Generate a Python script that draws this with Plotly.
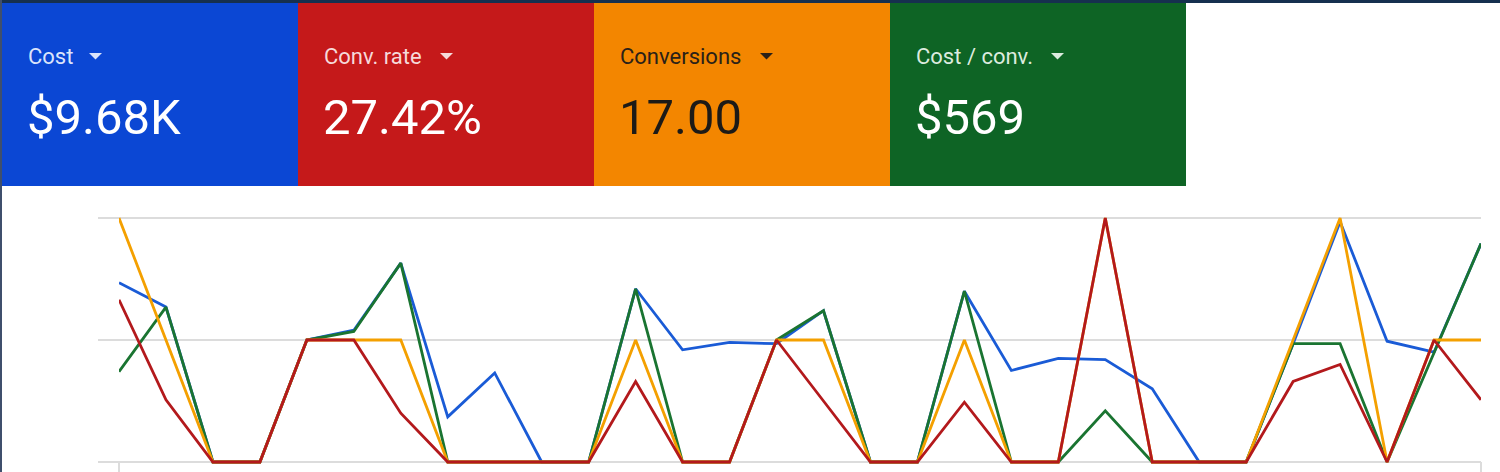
import plotly.graph_objects as go

# ---------------- data (normalised chart units: middle gridline = 1, top = 2) -------------
day_index = list(range(30))

cost = [1.47, 1.27, 0, 0, 1.0, 1.08, 1.63, 0.37, 0.73, 0, 0, 1.42, 0.92, 0.98, 0.97,
        1.24, 0, 0, 1.40, 0.75, 0.85, 0.84, 0.60, 0, 0, 0.97, 1.97, 0.99, 0.90, 1.79]
cost_per_conv = [0.74, 1.27, 0, 0, 1.0, 1.07, 1.63, 0, 0, 0, 0, 1.42, 0, 0, 1.0,
                 1.24, 0, 0, 1.40, 0, 0, 0.42, 0, 0, 0, 0.97, 0.97, 0, 0.90, 1.79]
conversions = [2.0, 1.0, 0, 0, 1.0, 1.0, 1.0, 0, 0, 0, 0, 1.0, 0, 0, 1.0,
               1.0, 0, 0, 1.0, 0, 0, 2.0, 0, 0, 0, 1.0, 2.0, 0, 1.0, 1.0]
conv_rate = [1.33, 0.51, 0, 0, 1.0, 1.0, 0.40, 0, 0, 0, 0, 0.66, 0, 0, 1.0,
             0.50, 0, 0, 0.49, 0, 0, 2.0, 0, 0, 0, 0.66, 0.80, 0, 1.0, 0.51]

gridline_values = [0, 1, 2]

tile_labels = ["Cost", "Conv. rate", "Conversions", "Cost / conv."]
tile_values = ["$9.68K", "27.42%", "17.00", "$569"]

# ---------------- styling ----------------
W, H = 1500, 472
tile_colors = ["#0b47d4", "#c5191a", "#f38600", "#0e6425"]
tile_label_colors = ["#dbe4fb", "#f6dada", "#2a2118", "#dcebdf"]
tile_value_colors = ["#ffffff", "#ffffff", "#1c1a17", "#ffffff"]
tile_x = [2, 298, 594, 890]
tile_w = 296
arrow_x = [89, 440, 760, 1051]

line_colors = {"cost": "#1a5bd6", "cpc": "#1a7431", "conv": "#f4a000", "rate": "#b3191c"}

def px(x):
    return x / W

def py(y):
    return 1 - y / H

fig = go.Figure()

series = [("Cost", cost, line_colors["cost"]),
          ("Cost / conv.", cost_per_conv, line_colors["cpc"]),
          ("Conversions", conversions, line_colors["conv"]),
          ("Conv. rate", conv_rate, line_colors["rate"])]
for name, vals, col in series:
    fig.add_trace(go.Scatter(x=day_index, y=vals, mode="lines", name=name,
                             line=dict(color=col, width=2.8), hoverinfo="skip"))

shapes = []
# gridlines
for v in gridline_values:
    shapes.append(dict(type="line", xref="paper", yref="y", x0=px(98), x1=px(1481),
                       y0=v, y1=v, line=dict(color="#dcdcdc", width=2), layer="below"))
# axis box sides below the bottom gridline
for xx in (119, 1481):
    shapes.append(dict(type="line", xref="paper", yref="paper", x0=px(xx), x1=px(xx),
                       y0=py(462), y1=py(474), line=dict(color="#dcdcdc", width=2), layer="below"))
# tiles
for i in range(4):
    shapes.append(dict(type="rect", xref="paper", yref="paper",
                       x0=px(tile_x[i]), x1=px(tile_x[i] + tile_w), y0=py(186), y1=py(2),
                       fillcolor=tile_colors[i], line=dict(width=0), layer="below"))
    ax = arrow_x[i]
    shapes.append(dict(type="path", xref="paper", yref="paper",
                       path=f"M {px(ax)} {py(53)} L {px(ax + 13)} {py(53)} L {px(ax + 6.5)} {py(59.5)} Z",
                       fillcolor=tile_label_colors[i], line=dict(width=0)))
# frame edges
shapes.append(dict(type="rect", xref="paper", yref="paper", x0=0, x1=1, y0=py(3), y1=1,
                   fillcolor="#16304f", line=dict(width=0)))
shapes.append(dict(type="rect", xref="paper", yref="paper", x0=0, x1=px(2), y0=0, y1=1,
                   fillcolor="#3f4f6c", line=dict(width=0)))

annotations = []
for i in range(4):
    annotations.append(dict(xref="paper", yref="paper", x=px(tile_x[i] + 24), y=py(56),
                            xanchor="left", yanchor="middle", showarrow=False,
                            text=tile_labels[i],
                            font=dict(family="Roboto", size=22, color=tile_label_colors[i])))
    annotations.append(dict(xref="paper", yref="paper", x=px(tile_x[i] + 23), y=py(117),
                            xanchor="left", yanchor="middle", showarrow=False,
                            text=tile_values[i],
                            font=dict(family="Roboto", size=49, color=tile_value_colors[i])))

y_lo = (462 - 472) / 122.0
y_hi = (462 - 205) / 122.0

fig.update_layout(
    width=W, height=H,
    margin=dict(l=0, r=0, t=0, b=0),
    paper_bgcolor="#ffffff", plot_bgcolor="rgba(0,0,0,0)",
    showlegend=False,
    xaxis=dict(domain=[px(119), px(1481)], range=[0, 29], visible=False),
    yaxis=dict(domain=[0, py(205)], range=[y_lo, y_hi], visible=False),
    shapes=shapes,
    annotations=annotations,
)

fig.write_html("out.html", config={"displayModeBar": False},
               post_script="document.body.style.margin='0';document.body.style.overflow='hidden';")
